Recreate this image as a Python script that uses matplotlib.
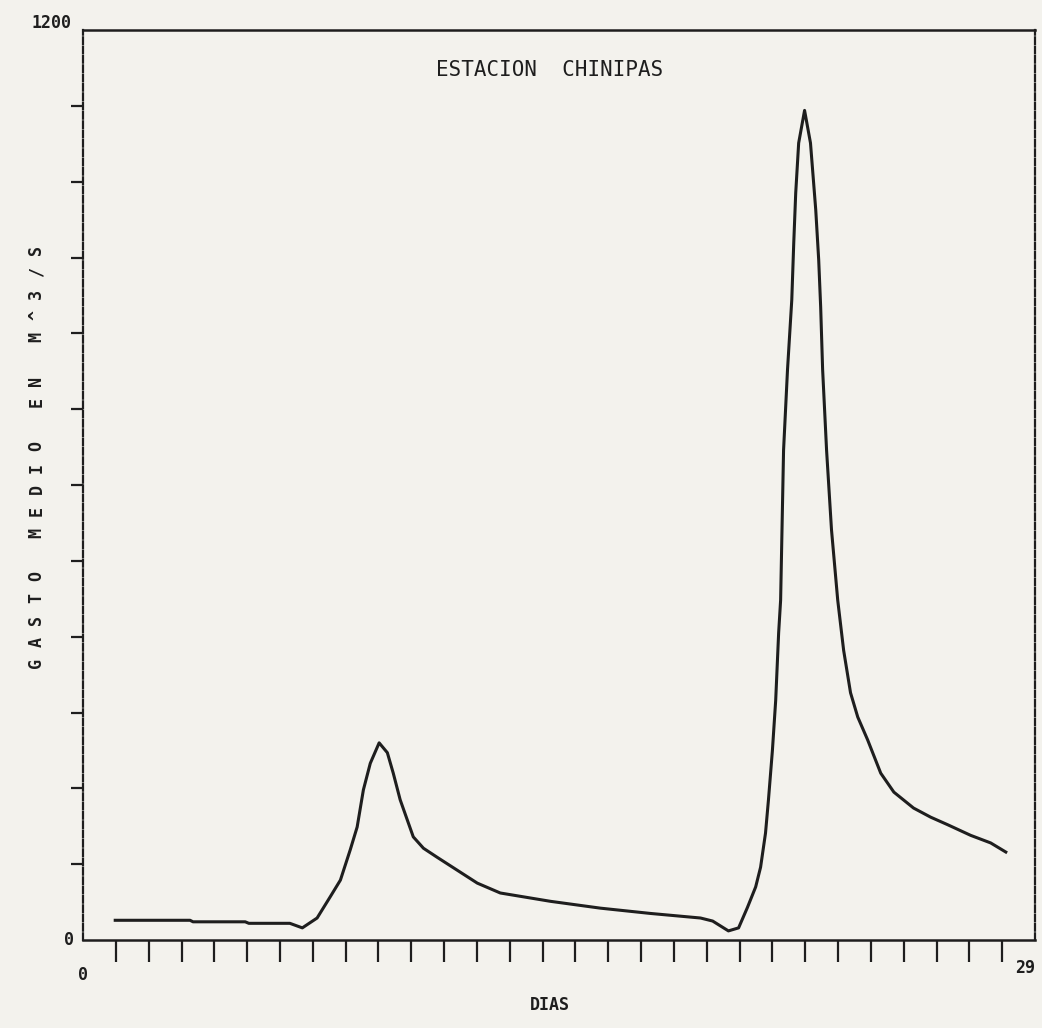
import numpy as np
import matplotlib.pyplot as plt

# Daily mean discharge (days, m^3/s)
dias = [0.98, 3.26, 3.35, 4.94, 5.05, 6.30, 6.68, 7.13, 7.53, 7.84, 8.14, 8.35,
        8.54, 8.75, 9.02, 9.27, 9.45, 9.66, 9.88, 10.06, 10.37, 10.79, 11.40,
        12.01, 12.71, 14.24, 15.76, 17.29, 18.81, 19.18, 19.66, 19.97, 20.24,
        20.49, 20.64, 20.79, 20.88, 21.00, 21.10, 21.19, 21.25, 21.34, 21.46,
        21.59, 21.65, 21.71, 21.80, 21.98, 22.16, 22.32, 22.41, 22.47, 22.53,
        22.65, 22.80, 22.99, 23.17, 23.38, 23.60, 23.90, 24.30, 24.70, 25.30,
        25.82, 26.34, 27.04, 27.65, 28.11]
gasto = [26, 26, 24, 24, 22, 22, 16, 29, 57, 79, 119, 149,
         198, 233, 260, 247, 220, 185, 158, 136, 121, 109, 92,
         75, 62, 51, 42, 35, 29, 25, 12, 16, 43,
         70, 96, 141, 185, 250, 316, 405, 448, 646, 752,
         844, 919, 985, 1051, 1094, 1051, 963, 897, 835, 752,
         646, 541, 448, 382, 326, 294, 264, 220, 195, 174,
         162, 152, 138, 128, 116]

x_ticks = list(range(1, 29))
y_ticks = list(range(100, 1200, 100))
ylabel_chars = "GASTO MEDIO EN M^3/S"

paper = '#f3f2ed'
ink = '#1e1e1e'

fig = plt.figure(figsize=(10.42, 10.28), dpi=100, facecolor=paper)
ax = fig.add_axes([0.0797, 0.0856, 0.9136, 0.8852])
ax.set_facecolor(paper)

ax.plot(dias, gasto, color=ink, lw=2.2)

ax.set_xlim(0, 29)
ax.set_ylim(0, 1200)
ax.set_xticks(x_ticks)
ax.set_yticks(y_ticks)
ax.set_xticklabels([])
ax.set_yticklabels([])
ax.tick_params(axis='x', direction='out', length=15.5, width=1.6, color=ink)
ax.tick_params(axis='y', direction='out', length=9, width=1.6, color=ink)

for side in ['left', 'right']:
    ax.spines[side].set_linestyle((0, (3, 1.2)))
    ax.spines[side].set_linewidth(1.6)
    ax.spines[side].set_color(ink)
for side in ['top', 'bottom']:
    ax.spines[side].set_linewidth(1.8)
    ax.spines[side].set_color(ink)

mono = 'DejaVu Sans Mono'
ax.text(0.4905, 0.956, 'ESTACION  CHINIPAS', transform=ax.transAxes, ha='center',
        va='center', family=mono, fontsize=15, color=ink)
ax.text(-0.012, 1.008, '1200', transform=ax.transAxes, ha='right', va='center',
        family=mono, fontsize=12, fontweight='bold', color=ink)
ax.text(-0.01, 0.0, '0', transform=ax.transAxes, ha='right', va='center',
        family=mono, fontsize=12, fontweight='bold', color=ink)
ax.text(0.0, -0.038, '0', transform=ax.transAxes, ha='center', va='center',
        family=mono, fontsize=12, fontweight='bold', color=ink)
ax.text(0.99, -0.031, '29', transform=ax.transAxes, ha='center', va='center',
        family=mono, fontsize=12, fontweight='bold', color=ink)
ax.text(0.49, -0.071, 'DIAS', transform=ax.transAxes, ha='center', va='center',
        family=mono, fontsize=12, fontweight='bold', color=ink)

# spaced vertical axis label, printed one character at a time
y0, y1 = 0.304, 0.758
for i, ch in enumerate(ylabel_chars):
    yy = y0 + (y1 - y0) * i / (len(ylabel_chars) - 1)
    ax.text(-0.049, yy, ch, transform=ax.transAxes, ha='center', va='center',
            rotation=90, family=mono, fontsize=12, fontweight='bold', color=ink)

fig.savefig('out.png', dpi=100, facecolor=paper)
